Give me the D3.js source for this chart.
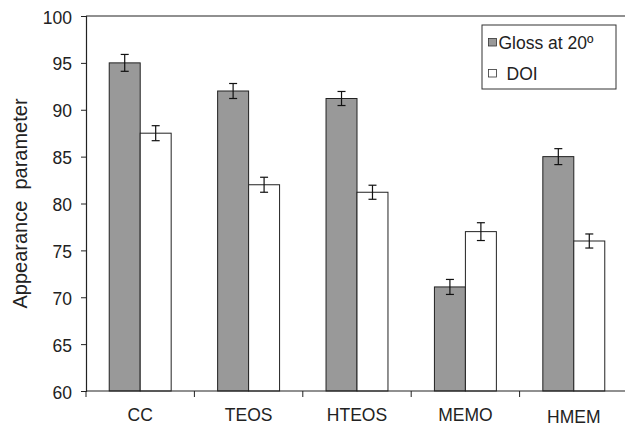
<!DOCTYPE html>
<html lang="en">
<head>
  <meta charset="UTF-8">
  <title>Appearance parameter</title>
  <style>
    body { margin: 0; background: #fff; }
    svg { display: block; font-family: "Liberation Sans", Arial, sans-serif; }
  </style>
</head>
<body>
  <svg id="svg" width="625" height="427"></svg>

  <script src="https://d3js.org/d3.v7.min.js"></script>
  <script>
    // data
    const categories = ['CC', 'TEOS', 'HTEOS', 'MEMO', 'HMEM']
    const seriesNames = ['Gloss at 20º', 'DOI']
    const gloss = [95.0, 92.0, 91.2, 71.1, 85.0]
    const glossErr = [0.9, 0.8, 0.75, 0.8, 0.85]
    const doi = [87.5, 82.0, 81.2, 77.0, 76.0]
    const doiErr = [0.8, 0.8, 0.75, 0.95, 0.75]
    const yTicks = [60, 65, 70, 75, 80, 85, 90, 95, 100]

    const margin = { top: 16, left: 86 }
    const width = 542
    const height = 375

    const svg = d3.select('#svg')
    const g = svg.append('g').attr('transform', `translate(${margin.left}, ${margin.top})`)

    const xscale = d3.scaleBand()
      .domain(categories)
      .range([0, width])

    const xinner = d3.scaleBand()
      .domain(seriesNames)
      .range([0, xscale.bandwidth()])
      .paddingInner(0)
      .paddingOuter(0.75)

    const yscale = d3.scaleLinear()
      .domain([60, 100])
      .range([height, 0])

    const rows = categories.map((c, i) => [
      { cat: c, series: seriesNames[0], v: gloss[i], e: glossErr[i], fill: '#999999' },
      { cat: c, series: seriesNames[1], v: doi[i], e: doiErr[i], fill: '#ffffff' }
    ]).flat()

    // top frame line
    g.append('line')
      .attr('x1', 0).attr('x2', width)
      .attr('y1', 0).attr('y2', 0)
      .attr('stroke', '#222').attr('stroke-width', 1.2)

    // bars
    g.append('g')
      .selectAll('rect')
      .data(rows)
      .enter()
      .append('rect')
      .attr('x', d => xscale(d.cat) + xinner(d.series))
      .attr('y', d => yscale(d.v))
      .attr('width', xinner.bandwidth())
      .attr('height', d => height - yscale(d.v))
      .attr('fill', d => d.fill)
      .attr('stroke', '#222')
      .attr('stroke-width', 1)

    // error bars
    const cap = 4
    const errG = g.append('g').attr('stroke', '#111').attr('stroke-width', 1.2)
    rows.forEach(d => {
      const cx = xscale(d.cat) + xinner(d.series) + xinner.bandwidth() / 2
      const y1 = yscale(d.v + d.e)
      const y2 = yscale(d.v - d.e)
      errG.append('line').attr('x1', cx).attr('x2', cx).attr('y1', y1).attr('y2', y2)
      errG.append('line').attr('x1', cx - cap).attr('x2', cx + cap).attr('y1', y1).attr('y2', y1)
      errG.append('line').attr('x1', cx - cap).attr('x2', cx + cap).attr('y1', y2).attr('y2', y2)
    })

    // y axis
    const leftAxis = d3.axisLeft(yscale).tickValues(yTicks).tickSize(5).tickPadding(9)
    const yAx = g.append('g').call(leftAxis)
    yAx.select('.domain').attr('stroke', '#222').attr('stroke-width', 1.2)
    yAx.selectAll('.tick line').attr('stroke', '#222')
    yAx.selectAll('text').attr('font-size', 17.5).attr('fill', '#222').attr('dy', '0.4em')

    // x axis: ticks on band boundaries
    const xAx = g.append('g').attr('transform', `translate(0, ${height})`)
    xAx.append('line')
      .attr('x1', 0).attr('x2', width)
      .attr('stroke', '#222').attr('stroke-width', 1.2)
    xAx.selectAll('.xtick')
      .data(categories)
      .enter()
      .append('line')
      .attr('x1', d => xscale(d)).attr('x2', d => xscale(d))
      .attr('y1', 0).attr('y2', 6)
      .attr('stroke', '#222')
    xAx.selectAll('.xlabel')
      .data(categories)
      .enter()
      .append('text')
      .attr('x', d => xscale(d) + xscale.bandwidth() / 2)
      .attr('y', d => d === 'HMEM' ? 31.5 : 30)
      .attr('text-anchor', 'middle')
      .attr('font-size', 17.5)
      .attr('fill', '#222')
      .text(d => d)

    // y axis title
    svg.append('text')
      .attr('transform', `translate(27, ${margin.top + height / 2}) rotate(-90)`)
      .attr('text-anchor', 'middle')
      .attr('font-size', 20)
      .attr('fill', '#222')
      .attr('xml:space', 'preserve')
      .style('white-space', 'pre')
      .text('Appearance  parameter')

    // legend
    const legend = svg.append('g').attr('transform', 'translate(482, 25)')
    legend.append('rect')
      .attr('width', 134).attr('height', 64)
      .attr('fill', '#fff').attr('stroke', '#333').attr('stroke-width', 1)
    const legendFills = ['#999999', '#ffffff']
    seriesNames.forEach((name, i) => {
      const ly = 17 + i * 31
      legend.append('rect')
        .attr('x', 6.5).attr('y', ly - 3.5)
        .attr('width', 8).attr('height', 7.5)
        .attr('fill', legendFills[i]).attr('stroke', '#333').attr('stroke-width', 0.8)
      legend.append('text')
        .attr('x', i === 0 ? 16.5 : 24.5).attr('y', ly + 6.5)
        .attr('font-size', 17.5)
        .attr('fill', '#222')
        .text(name)
    })
  </script>
</body>
</html>
